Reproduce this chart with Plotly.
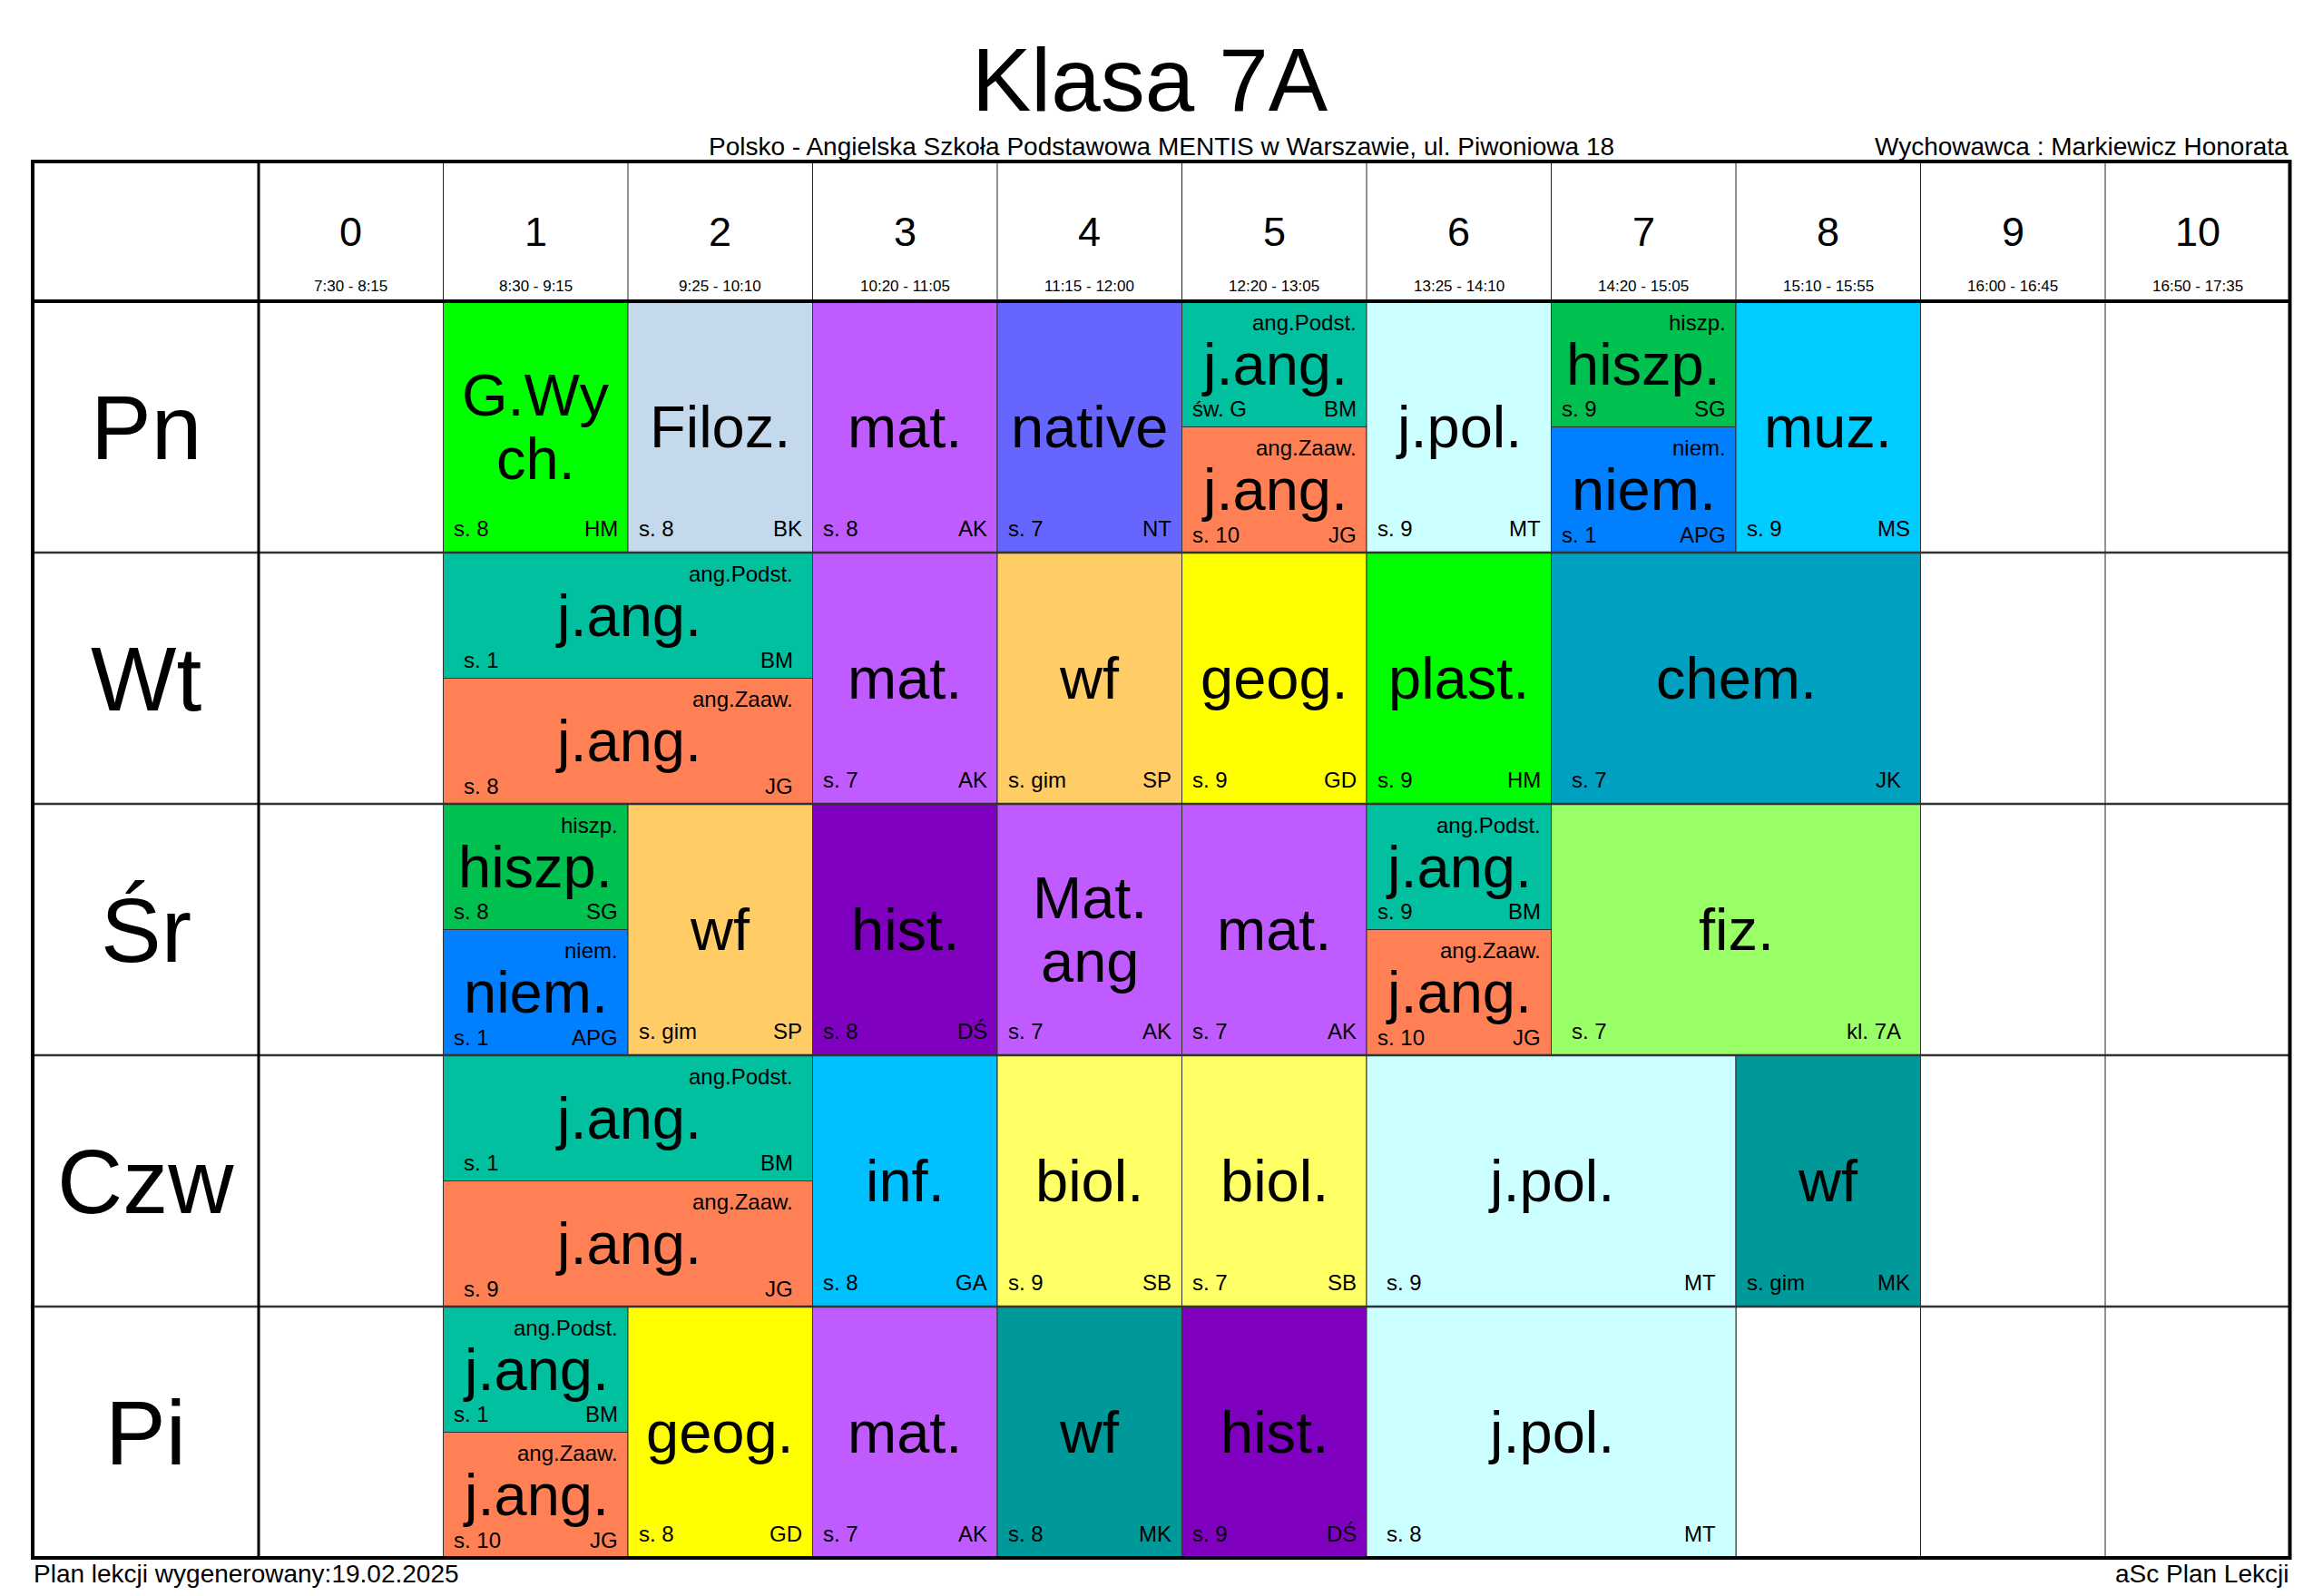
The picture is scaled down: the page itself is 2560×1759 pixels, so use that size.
import plotly.graph_objects as go

# ---------------- data ----------------
days = ["Pn", "Wt", "Śr", "Czw", "Pi"]
period_labels = ["0", "1", "2", "3", "4", "5", "6", "7", "8", "9", "10"]
period_times = ["7:30 - 8:15", "8:30 - 9:15", "9:25 - 10:10", "10:20 - 11:05",
                "11:15 - 12:00", "12:20 - 13:05", "13:25 - 14:10", "14:20 - 15:05",
                "15:10 - 15:55", "16:00 - 16:45", "16:50 - 17:35"]

lesson_day = [0, 0, 0, 0, 0, 0, 0, 0, 0, 0,
              1, 1, 1, 1, 1, 1, 1,
              2, 2, 2, 2, 2, 2, 2, 2, 2,
              3, 3, 3, 3, 3, 3, 3,
              4, 4, 4, 4, 4, 4, 4]
lesson_start = [1, 2, 3, 4, 5, 5, 6, 7, 7, 8,
                1, 1, 3, 4, 5, 6, 7,
                1, 1, 2, 3, 4, 5, 6, 6, 7,
                1, 1, 3, 4, 5, 6, 8,
                1, 1, 2, 3, 4, 5, 6]
lesson_span = [1, 1, 1, 1, 1, 1, 1, 1, 1, 1,
               2, 2, 1, 1, 1, 1, 2,
               1, 1, 1, 1, 1, 1, 1, 1, 2,
               2, 2, 1, 1, 1, 2, 1,
               1, 1, 1, 1, 1, 1, 2]
lesson_part = ["full", "full", "full", "full", "top", "bottom", "full", "top", "bottom", "full",
               "top", "bottom", "full", "full", "full", "full", "full",
               "top", "bottom", "full", "full", "full", "full", "top", "bottom", "full",
               "top", "bottom", "full", "full", "full", "full", "full",
               "top", "bottom", "full", "full", "full", "full", "full"]
lesson_subject = ["G.Wy\nch.", "Filoz.", "mat.", "native", "j.ang.", "j.ang.", "j.pol.", "hiszp.", "niem.", "muz.",
                  "j.ang.", "j.ang.", "mat.", "wf", "geog.", "plast.", "chem.",
                  "hiszp.", "niem.", "wf", "hist.", "Mat.\nang", "mat.", "j.ang.", "j.ang.", "fiz.",
                  "j.ang.", "j.ang.", "inf.", "biol.", "biol.", "j.pol.", "wf",
                  "j.ang.", "j.ang.", "geog.", "mat.", "wf", "hist.", "j.pol."]
lesson_group = ["", "", "", "", "ang.Podst.", "ang.Zaaw.", "", "hiszp.", "niem.", "",
                "ang.Podst.", "ang.Zaaw.", "", "", "", "", "",
                "hiszp.", "niem.", "", "", "", "", "ang.Podst.", "ang.Zaaw.", "",
                "ang.Podst.", "ang.Zaaw.", "", "", "", "", "",
                "ang.Podst.", "ang.Zaaw.", "", "", "", "", ""]
lesson_room = ["s. 8", "s. 8", "s. 8", "s. 7", "św. G", "s. 10", "s. 9", "s. 9", "s. 1", "s. 9",
               "s. 1", "s. 8", "s. 7", "s. gim", "s. 9", "s. 9", "s. 7",
               "s. 8", "s. 1", "s. gim", "s. 8", "s. 7", "s. 7", "s. 9", "s. 10", "s. 7",
               "s. 1", "s. 9", "s. 8", "s. 9", "s. 7", "s. 9", "s. gim",
               "s. 1", "s. 10", "s. 8", "s. 7", "s. 8", "s. 9", "s. 8"]
lesson_teacher = ["HM", "BK", "AK", "NT", "BM", "JG", "MT", "SG", "APG", "MS",
                  "BM", "JG", "AK", "SP", "GD", "HM", "JK",
                  "SG", "APG", "SP", "DŚ", "AK", "AK", "BM", "JG", "kl. 7A",
                  "BM", "JG", "GA", "SB", "SB", "MT", "MK",
                  "BM", "JG", "GD", "AK", "MK", "DŚ", "MT"]
lesson_color = ["#00FF00", "#C4DAEC", "#C05CFF", "#6666FF", "#00C0A0", "#FF8055", "#CCFFFF", "#00C050", "#0080FF", "#00CCFF",
                "#00C0A0", "#FF8055", "#C05CFF", "#FFCC66", "#FFFF00", "#00FF00", "#00A0C0",
                "#00C050", "#0080FF", "#FFCC66", "#8000C0", "#C05CFF", "#C05CFF", "#00C0A0", "#FF8055", "#99FF66",
                "#00C0A0", "#FF8055", "#00C0FF", "#FFFF66", "#FFFF66", "#CCFFFF", "#009999",
                "#00C0A0", "#FF8055", "#FFFF00", "#C05CFF", "#009999", "#8000C0", "#CCFFFF"]

title_text = "Klasa 7A"
school_text = "Polsko - Angielska Szkoła Podstawowa MENTIS w Warszawie, ul. Piwoniowa 18"
tutor_text = "Wychowawca : Markiewicz Honorata"
footer_left = "Plan lekcji wygenerowany:19.02.2025"
footer_right = "aSc Plan Lekcji"

# ---------------- layout geometry (page pixels) ----------------
PAGE_W, PAGE_H = 2560, 1759
OFF = 8                      # default body margin of the html page
W, H = PAGE_W - 2 * OFF, PAGE_H - 2 * OFF
GRID_LEFT = 36
DAY_RIGHT = 285
COLW = 203.5
HEAD_TOP = 178
HEAD_BOT = 332
ROWH = 277
FONT = "Liberation Sans, Arial, sans-serif"
BIG = 65
SMALL = 24

n_per = len(period_labels)
n_days = len(days)

x_range = [(OFF - DAY_RIGHT) / COLW, (OFF + W - DAY_RIGHT) / COLW]
y_range = [(OFF + H - HEAD_BOT) / ROWH, (OFF - HEAD_BOT) / ROWH]
x_left = (GRID_LEFT - DAY_RIGHT) / COLW
y_head = (HEAD_TOP - HEAD_BOT) / ROWH
x_right = n_per


def px(x):
    return (x - OFF) / W


def py(y):
    return 1 - (y - OFF) / H


fig = go.Figure()
fig.add_trace(go.Scatter(x=[0], y=[0], mode="markers", marker=dict(opacity=0),
                         hoverinfo="skip", showlegend=False))

shapes = []
annos = []

# thin column lines
for k in range(1, n_per):
    shapes.append(dict(type="line", x0=k, x1=k, y0=y_head, y1=n_days,
                       line=dict(color="#222222", width=1)))

# lesson cells
for i in range(len(lesson_day)):
    d = lesson_day[i]
    s = lesson_start[i]
    sp = lesson_span[i]
    part = lesson_part[i]
    x0, x1 = s, s + sp
    if part == "full":
        y0, y1 = d, d + 1
    elif part == "top":
        y0, y1 = d, d + 0.5
    else:
        y0, y1 = d + 0.5, d + 1
    shapes.append(dict(type="rect", x0=x0, x1=x1, y0=y0, y1=y1,
                       fillcolor=lesson_color[i], line=dict(color="#333333", width=1)))
    inset = 10.5 * sp
    lines = lesson_subject[i].split("\n")
    nl = len(lines)
    for j, ln in enumerate(lines):
        off = (j - (nl - 1) / 2) * 70
        annos.append(dict(x=(x0 + x1) / 2, y=(y0 + y1) / 2, text=ln, showarrow=False,
                          xanchor="center", yanchor="middle", yshift=-off,
                          font=dict(family=FONT, size=BIG, color="#000000")))
    if lesson_group[i]:
        annos.append(dict(x=x1, y=y0, text=lesson_group[i], showarrow=False,
                          xanchor="right", yanchor="middle", xshift=-inset + 1, yshift=-23,
                          font=dict(family=FONT, size=SMALL, color="#000000")))
    ys = 27 if part == "full" else 20
    annos.append(dict(x=x0, y=y1, text=lesson_room[i], showarrow=False,
                      xanchor="left", yanchor="middle", xshift=inset - 1, yshift=ys,
                      font=dict(family=FONT, size=SMALL, color="#000000")))
    annos.append(dict(x=x1, y=y1, text=lesson_teacher[i], showarrow=False,
                      xanchor="right", yanchor="middle", xshift=-inset + 1, yshift=ys,
                      font=dict(family=FONT, size=SMALL, color="#000000")))

# row separators
for r in range(1, n_days):
    shapes.append(dict(type="line", x0=x_left, x1=x_right, y0=r, y1=r,
                       line=dict(color="#333333", width=2.5)))
# header bottom & day column separator
shapes.append(dict(type="line", x0=x_left, x1=x_right, y0=0, y1=0,
                   line=dict(color="#000000", width=4)))
shapes.append(dict(type="line", x0=0, x1=0, y0=y_head, y1=n_days,
                   line=dict(color="#000000", width=3)))
# outer border
shapes.append(dict(type="rect", x0=x_left, x1=x_right, y0=y_head, y1=n_days,
                   line=dict(color="#000000", width=4), fillcolor="rgba(0,0,0,0)"))

# header labels
for k in range(n_per):
    annos.append(dict(x=k + 0.5, y=y_head, text=period_labels[k], showarrow=False,
                      xanchor="center", yanchor="middle", yshift=-(255 - HEAD_TOP),
                      font=dict(family=FONT, size=45, color="#000000")))
    annos.append(dict(x=k + 0.5, y=y_head, text=period_times[k], showarrow=False,
                      xanchor="center", yanchor="middle", yshift=-(315 - HEAD_TOP),
                      font=dict(family=FONT, size=17, color="#000000")))

# day labels
for r in range(n_days):
    annos.append(dict(x=x_left / 2, y=r + 0.5, text=days[r], showarrow=False,
                      xanchor="center", yanchor="middle",
                      font=dict(family=FONT, size=100, color="#000000")))

# title & texts (paper coords)
annos.append(dict(xref="paper", yref="paper", x=px(1267), y=py(88), text=title_text,
                  showarrow=False, xanchor="center", yanchor="middle",
                  font=dict(family=FONT, size=98, color="#000000")))
annos.append(dict(xref="paper", yref="paper", x=px(1280), y=py(161), text=school_text,
                  showarrow=False, xanchor="center", yanchor="middle",
                  font=dict(family=FONT, size=28, color="#000000")))
annos.append(dict(xref="paper", yref="paper", x=px(2524), y=py(161), text=tutor_text,
                  showarrow=False, xanchor="right", yanchor="middle",
                  font=dict(family=FONT, size=28, color="#000000")))
annos.append(dict(xref="paper", yref="paper", x=px(35), y=py(1734), text=footer_left,
                  showarrow=False, xanchor="left", yanchor="middle",
                  font=dict(family=FONT, size=28, color="#000000")))
annos.append(dict(xref="paper", yref="paper", x=px(2524), y=py(1734), text=footer_right,
                  showarrow=False, xanchor="right", yanchor="middle",
                  font=dict(family=FONT, size=28, color="#000000")))

fig.update_layout(
    width=W, height=H, autosize=False,
    margin=dict(l=0, r=0, t=0, b=0),
    paper_bgcolor="#FFFFFF", plot_bgcolor="#FFFFFF",
    xaxis=dict(range=x_range, visible=False, fixedrange=True),
    yaxis=dict(range=y_range, visible=False, fixedrange=True),
    shapes=shapes, annotations=annos, showlegend=False,
)

fig.write_html("out.html", config={"displayModeBar": False, "staticPlot": True})
